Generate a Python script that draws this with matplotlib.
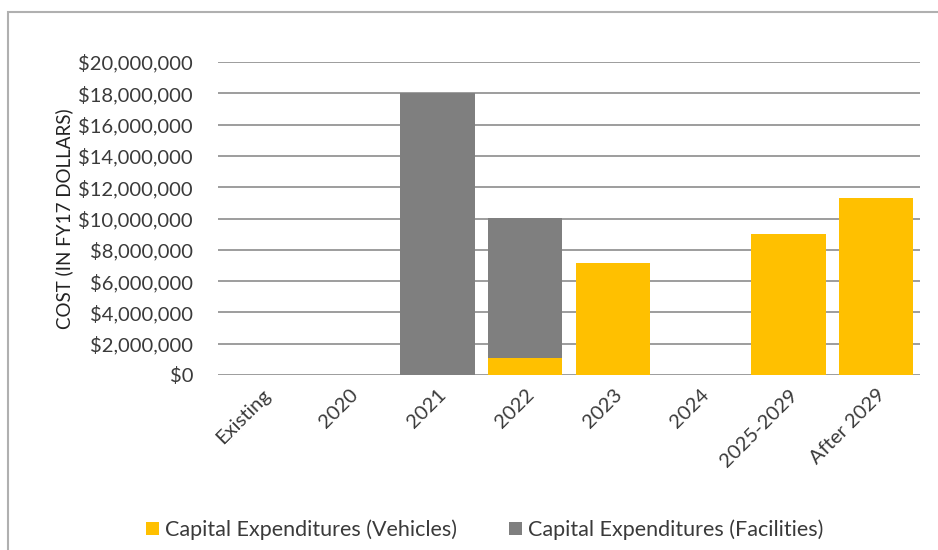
import matplotlib.pyplot as plt
from matplotlib.patches import Rectangle
from matplotlib.ticker import FuncFormatter

categories = ['Existing', '2020', '2021', '2022', '2023', '2024', '2025-2029', 'After 2029']
vehicles = [0, 0, 0, 1100000, 7150000, 0, 9000000, 11300000]
facilities = [0, 0, 18000000, 8900000, 0, 0, 0, 0]

plt.rcParams['font.family'] = ['Lato', 'DejaVu Sans']

fig = plt.figure(figsize=(9.38, 5.5), dpi=100)
fig.patches.append(Rectangle((8 / 938, -0.1), 1.0, 1 - 12 / 550 + 0.1,
                             transform=fig.transFigure, fill=False,
                             edgecolor='#b0b0b0', linewidth=1.5))

ax = fig.add_axes([218 / 938, 1 - 375 / 550, 702 / 938, 313 / 550])
x = range(len(categories))
ax.bar(x, vehicles, width=0.85, color='#FFC000', label='Capital Expenditures (Vehicles)', zorder=3)
ax.bar(x, facilities, width=0.85, bottom=vehicles, color='#7F7F7F',
       label='Capital Expenditures (Facilities)', zorder=3)

ax.set_ylim(0, 20000000)
ax.set_xlim(-0.5, len(categories) - 0.5)
ax.set_yticks(range(0, 20000001, 2000000))
ax.yaxis.set_major_formatter(FuncFormatter(lambda v, p: '${:,.0f}'.format(v)))
ax.grid(axis='y', color='#8c8c8c', linewidth=1.2, zorder=0)
for s in ax.spines.values():
    s.set_visible(False)
ax.tick_params(axis='both', length=0, labelsize=14.5, labelcolor='#3a3a3a')
ax.tick_params(axis='y', pad=18)
ax.set_xticks(list(x))
ax.set_xticklabels(categories, rotation=45, ha='right', rotation_mode='anchor')
ax.tick_params(axis='x', pad=8)
ax.set_ylabel('COST (IN FY17 DOLLARS)', fontsize=13.5, color='#222222', labelpad=4)

ax.legend(loc='upper center', bbox_to_anchor=(0.38, -0.40), ncol=2, frameon=False,
          fontsize=15.5, handlelength=0.6, handleheight=0.6, columnspacing=2.4,
          handletextpad=0.3, labelcolor='#3a3a3a')

fig.savefig('out.png', dpi=100)
